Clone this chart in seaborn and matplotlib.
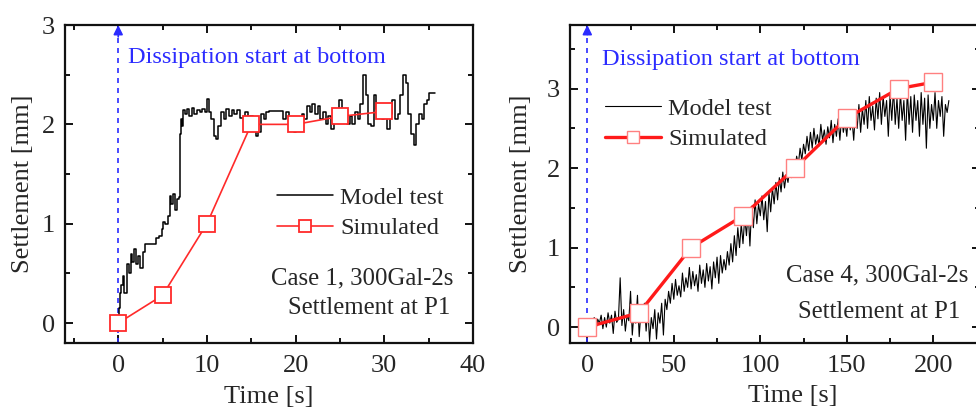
import numpy as np
import pandas as pd
import matplotlib
matplotlib.use("Agg")
import matplotlib.pyplot as plt
from matplotlib.ticker import MultipleLocator
import seaborn as sns

# ---------------- data ----------------
# Case 1 (left panel)
c1_test_t = [0, 0.1, 0.2, 0.3, 0.5, 0.6, 0.8, 1.0, 1.2, 1.4, 1.6, 1.8, 2.0, 2.2, 2.4,
             2.6, 2.8, 3.0, 3.2, 4.1, 4.3, 4.6, 4.9, 5.1, 5.3, 5.6, 5.8, 6.0, 6.2, 6.4,
             6.6, 6.8, 7.0, 7.1, 7.2, 7.3, 7.5, 7.8, 8.0, 8.3, 8.6, 8.9, 9.2, 9.5, 9.8,
             10.0, 10.2, 10.5, 10.8, 11.0, 11.3, 11.6, 11.9, 12.2, 12.5, 12.8, 13.1,
             13.4, 13.7, 14.0, 14.3, 14.6, 14.9, 15.2, 15.5, 15.8, 16.1, 16.4, 16.7,
             17.0, 18.3, 18.6, 18.9, 19.2, 19.5, 19.8, 20.1, 20.4, 20.7, 21.0, 21.3,
             21.6, 21.9, 22.2, 22.5, 22.8, 23.1, 23.4, 23.7, 24.0, 24.3, 24.6, 24.9,
             25.2, 25.5, 25.8, 26.1, 26.4, 26.7, 27.0, 27.3, 27.6, 27.9, 28.2, 28.5,
             28.8, 29.1, 29.4, 29.7, 30.0, 30.3, 30.6, 30.9, 31.2, 31.5, 31.8, 32.1,
             32.4, 32.7, 33.0, 33.3, 33.6, 33.9, 34.2, 34.5, 34.8, 35.0, 35.7]
c1_test_y = [0.0, 0.15, 0.30, 0.38, 0.47, 0.30, 0.30, 0.60, 0.50, 0.70, 0.62, 0.75, 0.60,
             0.68, 0.55, 0.55, 0.72, 0.80, 0.80, 0.80, 0.86, 0.88, 0.95, 1.02, 1.00, 1.08,
             1.28, 1.20, 1.30, 1.14, 1.25, 1.27, 1.90, 2.05, 1.98, 2.14, 2.10, 2.15, 2.08,
             2.16, 2.10, 2.14, 2.12, 2.15, 2.12, 2.26, 2.12, 2.05, 1.88, 1.85, 1.98, 2.12,
             2.05, 2.15, 2.08, 2.14, 2.10, 2.14, 2.06, 2.06, 2.12, 2.05, 2.08, 1.95, 1.88,
             1.92, 2.10, 2.05, 2.12, 2.13, 2.13, 2.05, 2.12, 1.98, 2.05, 1.92, 2.05, 2.00,
             2.10, 2.05, 2.18, 2.12, 2.20, 2.10, 2.18, 2.05, 2.12, 2.00, 2.08, 1.95, 2.05,
             2.10, 2.25, 2.12, 2.05, 2.00, 2.08, 2.00, 2.12, 2.05, 2.20, 2.50, 2.30, 2.00,
             1.98, 2.30, 2.15, 2.10, 2.05, 2.15, 1.95, 2.10, 2.25, 2.05, 2.10, 2.30, 2.50,
             2.42, 2.10, 1.90, 1.79, 2.00, 2.10, 2.05, 2.20, 2.25, 2.32, 2.32]
c1_sim_t = [0, 5, 10, 15, 20, 25, 30]
c1_sim_y = [0.0, 0.28, 1.0, 2.0, 2.0, 2.08, 2.13]

# Case 4 (right panel): model test sampled once per second, t = 0..209
c4_test_y = [
    0.00, -0.05, 0.08, 0.02, 0.12, -0.04, 0.10, 0.05, 0.15, -0.02,
    0.12, 0.00, 0.18, 0.05, 0.15, -0.08, 0.20, 0.06, 0.10, 0.62,
    0.02, 0.22, -0.05, 0.15, 0.08, 0.45, -0.10, 0.18, 0.05, 0.40,
    -0.12, 0.20, 0.10, 0.30, -0.05, 0.25, -0.18, 0.12, -0.02, 0.22,
    -0.15, 0.18, 0.05, 0.30, -0.10, 0.35, 0.22, 0.45, 0.30, 0.55,
    0.35, 0.60, 0.40, 0.52, 0.38, 0.68, 0.45, 0.62, 0.50, 0.75,
    0.48, 0.70, 0.52, 0.66, 0.45, 0.78, 0.55, 0.72, 0.50, 0.80,
    0.58, 0.76, 0.48, 0.82, 0.62, 0.88, 0.55, 0.90, 0.68, 0.85,
    0.72, 0.95, 0.78, 1.05, 0.82, 1.15, 0.90, 1.25, 1.00, 1.30,
    1.05, 1.38, 1.15, 1.45, 1.02, 1.52, 1.25, 1.60, 1.30, 1.55,
    1.40, 1.65, 1.35, 1.58, 1.20, 1.70, 1.45, 1.75, 1.55, 1.82,
    1.60, 1.88, 1.70, 1.95, 1.75, 1.92, 1.82, 2.00, 1.88, 2.05,
    1.95, 2.15, 2.05, 2.25, 2.10, 2.30, 2.18, 2.40, 2.22, 2.45,
    2.25, 2.50, 2.30, 2.42, 2.28, 2.55, 2.35, 2.48, 2.30, 2.52,
    2.38, 2.60, 2.32, 2.55, 2.40, 2.62, 2.35, 2.65, 2.45, 2.58,
    2.40, 2.70, 2.48, 2.62, 2.35, 2.72, 2.50, 2.80, 2.45, 2.75,
    2.55, 2.85, 2.50, 2.90, 2.60, 2.78, 2.48, 2.88, 2.62, 2.95,
    2.55, 2.90, 2.65, 2.85, 2.40, 2.92, 2.60, 3.00, 2.55, 2.88,
    2.50, 2.95, 2.60, 2.85, 2.35, 2.98, 2.55, 2.90, 2.45, 2.92,
    2.60, 2.85, 2.40, 2.95, 2.55, 2.88, 2.25, 2.92, 2.50, 2.80,
    2.60, 2.95, 2.50, 2.85, 2.65, 2.90, 2.40, 2.80, 2.70, 2.85]
c4_test_t = list(range(len(c4_test_y)))
c4_sim_t = [0, 30, 60, 90, 120, 150, 180, 200]
c4_sim_y = [0.0, 0.18, 1.0, 1.4, 2.0, 2.63, 3.0, 3.08]

labels = ["Model test", "Simulated"]
annot = "Dissipation start at bottom"
case_texts = [("Case 1, 300Gal-2s", "Settlement at P1"),
              ("Case 4, 300Gal-2s", "Settlement at P1")]

# ---------------- style ----------------
sns.set_style("ticks")
plt.rcParams["font.family"] = ["Liberation Serif", "DejaVu Serif"]

W, H = 976, 413
fig = plt.figure(figsize=(W / 100, H / 100), dpi=100)


def px_axes(l, t, r, b):
    return fig.add_axes([l / W, 1 - b / H, (r - l) / W, (b - t) / H])


ax1 = px_axes(65, 25, 473, 343)
ax2 = px_axes(570, 25, 980, 343)

blue = "#2b2bff"
red = "#ff2a2a"


def style_axes(ax, xmaj, xmin, ymaj, ymin):
    ax.xaxis.set_major_locator(MultipleLocator(xmaj))
    ax.xaxis.set_minor_locator(MultipleLocator(xmin))
    ax.yaxis.set_major_locator(MultipleLocator(ymaj))
    ax.yaxis.set_minor_locator(MultipleLocator(ymin))
    ax.tick_params(which="both", direction="in", top=True, right=True,
                   labelsize=19, width=1.4, color="#111111")
    ax.tick_params(which="major", length=6)
    ax.tick_params(which="minor", length=3.5)
    ax.tick_params(axis="x", pad=9)
    ax.tick_params(axis="y", pad=7)
    for s in ax.spines.values():
        s.set_linewidth(1.6)
        s.set_color("#111111")


# ---- left panel ----
df1 = pd.DataFrame({"t": c1_test_t, "y": c1_test_y})
sns.lineplot(data=df1, x="t", y="y", ax=ax1, color="black", lw=1.1,
             sort=False, estimator=None, drawstyle="steps-post", label=labels[0])
sim1 = pd.DataFrame({"t": c1_sim_t, "y": c1_sim_y})
sns.lineplot(data=sim1, x="t", y="y", ax=ax1, color=red, lw=1.2, marker="s",
             markersize=11, markerfacecolor="white", markeredgecolor=red,
             markeredgewidth=1.3, sort=False, estimator=None, label=labels[1])
ax1.set_xlim(-6, 40)
ax1.set_ylim(-0.2, 3)
style_axes(ax1, 10, 5, 1, 0.5)

# ---- right panel ----
df4 = pd.DataFrame({"t": c4_test_t, "y": c4_test_y})
sns.lineplot(data=df4, x="t", y="y", ax=ax2, color="black", lw=0.8,
             sort=False, estimator=None, label=labels[0])
sim4 = pd.DataFrame({"t": c4_sim_t, "y": c4_sim_y})
sns.lineplot(data=sim4, x="t", y="y", ax=ax2, color="#ff1a1a", lw=2.4, marker="s",
             markersize=13, markerfacecolor="white", markeredgecolor="#ff8080",
             markeredgewidth=1.0, sort=False, estimator=None, label=labels[1])
ax2.set_xlim(-10, 227)
ax2.set_ylim(-0.2, 3.8)
style_axes(ax2, 50, 25, 1, 0.5)

for ax, (lx, ly), (xl, yl) in [(ax1, (-0.076, 0.5), (0.5, -0.135)),
                                (ax2, (-0.093, 0.5), (0.543, -0.132))]:
    ax.set_xlabel("Time [s]", fontsize=19)
    ax.set_ylabel("Settlement [mm]", fontsize=19)
    ax.yaxis.set_label_coords(lx, ly)
    ax.xaxis.set_label_coords(xl, yl)
    ymin, ymax = ax.get_ylim()
    ax.plot([0, 0], [ymin, ymax - 0.1], ls=(0, (3, 3)), color=blue, lw=1.2, zorder=1)
    ax.annotate("", xy=(0, ymax), xytext=(0, ymax - 0.12),
                arrowprops=dict(arrowstyle="-|>", color=blue, lw=1.2,
                                mutation_scale=14, shrinkA=0, shrinkB=0))


def ax_frac(ax, px, py):
    bb = ax.get_position()
    return (px / W - bb.x0) / bb.width, (1 - py / H - bb.y0) / bb.height


x, y = ax_frac(ax1, 128, 57)
ax1.text(x, y, annot, transform=ax1.transAxes, color=blue, fontsize=17.5,
         ha="left", va="center")
x, y = ax_frac(ax2, 602, 60)
ax2.text(x, y, annot, transform=ax2.transAxes, color=blue, fontsize=17.5,
         ha="left", va="center")

for i, (ax, pos) in enumerate([(ax1, [(453, 278), (450, 308)]),
                               (ax2, [(968, 275), (960, 312)])]):
    for txt, (px, py) in zip(case_texts[i], pos):
        x, y = ax_frac(ax, px, py)
        ax.text(x, y, txt, transform=ax.transAxes, fontsize=17.8, ha="right",
                va="center")

for ax, anchor in [(ax1, ax_frac(ax1, 277, 213)), (ax2, ax_frac(ax2, 605, 124))]:
    leg = ax.legend(loc="center left", bbox_to_anchor=anchor, frameon=False,
                    fontsize=17.5, borderpad=0, borderaxespad=0,
                    handlelength=2.3, handletextpad=0.3, labelspacing=0.36)
    leg.legend_handles[1].set_markersize(8)

fig.savefig("out.png", dpi=100)
